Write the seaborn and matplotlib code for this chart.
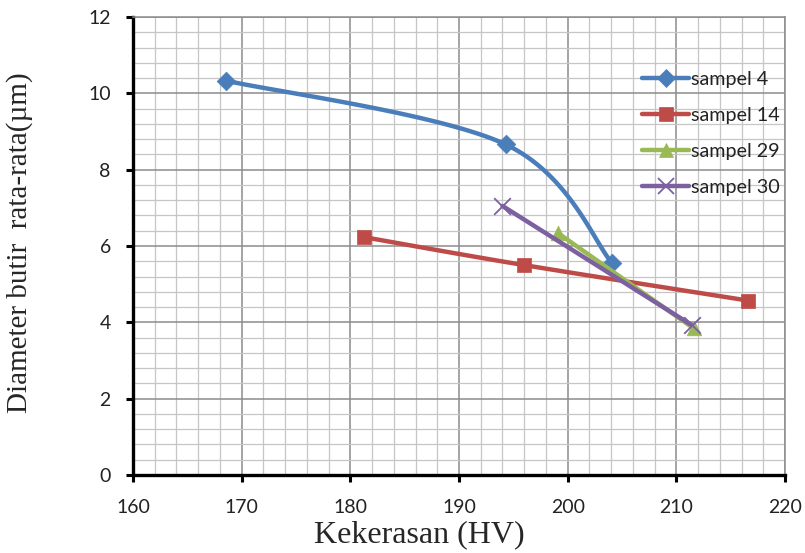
import numpy as np
import pandas as pd
import matplotlib
matplotlib.use("Agg")
import matplotlib.pyplot as plt
from matplotlib.lines import Line2D
from matplotlib.ticker import MultipleLocator
import seaborn as sns

# Hardness (HV) vs. average grain diameter (um) per sample
s4_x = [168.6, 194.3, 204.1]
s4_y = [10.33, 8.66, 5.55]
s14_x = [181.3, 196.0, 216.6]
s14_y = [6.23, 5.50, 4.57]
s29_x = [199.1, 211.6]
s29_y = [6.34, 3.84]
s30_x = [194.0, 211.4]
s30_y = [7.05, 3.93]

labels = ["sampel 4", "sampel 14", "sampel 29", "sampel 30"]
colors = ["#4A7EBB", "#BE4B48", "#98B954", "#7D60A0"]
markers = ["D", "s", "^", "x"]
msizes = [9.5, 10.5, 10.5, 10.5]

x_label = "Kekerasan (HV)"
y_label = "Diameter butir  rata-rata(\u00b5m)"


def smooth(xs, ys, n=60):
    """Catmull-Rom style Bezier smoothing through the given points."""
    p = np.column_stack([xs, ys]).astype(float)
    if len(p) < 3:
        return p[:, 0], p[:, 1]
    pts = []
    for i in range(len(p) - 1):
        p0 = p[i - 1] if i > 0 else p[i]
        p1, p2 = p[i], p[i + 1]
        p3 = p[i + 2] if i + 2 < len(p) else p[i + 1]
        c1 = p1 + (p2 - p0) / 6.0
        c2 = p2 - (p3 - p1) / 6.0
        t = np.linspace(0, 1, n)[:, None]
        seg = ((1 - t) ** 3) * p1 + 3 * ((1 - t) ** 2) * t * c1 \
            + 3 * (1 - t) * t ** 2 * c2 + t ** 3 * p2
        pts.append(seg if i == 0 else seg[1:])
    pts = np.vstack(pts)
    return pts[:, 0], pts[:, 1]


sns.set_style("white")
plt.rcParams["font.family"] = ["Lato", "DejaVu Sans"]

fig = plt.figure(figsize=(8.05, 5.53), dpi=100)
ax = fig.add_axes([133 / 805, 1 - 475 / 553, 652 / 805, 458 / 553])

series = [(s4_x, s4_y), (s14_x, s14_y), (s29_x, s29_y), (s30_x, s30_y)]
for i, ((xs, ys), lab, col, mk, ms) in enumerate(zip(series, labels, colors, markers, msizes)):
    sx, sy = smooth(xs, ys)
    curve = pd.DataFrame({"x": sx, "y": sy})
    sns.lineplot(data=curve, x="x", y="y", sort=False, color=col, lw=3.2,
                 ax=ax, zorder=3 + i, legend=False)
    pts = pd.DataFrame({"x": xs, "y": ys})
    if mk == "x":
        sns.scatterplot(data=pts, x="x", y="y", marker="x", s=ms ** 2 * 1.3,
                        color=col, linewidth=1.3, ax=ax, zorder=3.5 + i, legend=False)
    else:
        sns.scatterplot(data=pts, x="x", y="y", marker=mk, s=ms ** 2,
                        color=col, edgecolor=col, linewidth=0.5, ax=ax,
                        zorder=3.5 + i, legend=False)

ax.set_xlim(160, 220)
ax.set_ylim(0, 12)
ax.xaxis.set_major_locator(MultipleLocator(10))
ax.xaxis.set_minor_locator(MultipleLocator(2))
ax.yaxis.set_major_locator(MultipleLocator(2))
ax.yaxis.set_minor_locator(MultipleLocator(0.4))

ax.grid(which="major", color="#8c8c8c", lw=1.1, zorder=0)
ax.grid(which="minor", color="#c6c6c6", lw=0.9, zorder=0)
ax.set_axisbelow(True)

for side in ["top", "right"]:
    ax.spines[side].set_color("#8c8c8c")
    ax.spines[side].set_linewidth(1.1)
for side in ["left", "bottom"]:
    ax.spines[side].set_color("black")
    ax.spines[side].set_linewidth(2.4)

ax.tick_params(which="major", axis="both", direction="out", length=5, width=2.2,
               color="black", labelsize=14, labelcolor="#222222",
               left=True, bottom=True)
ax.tick_params(which="minor", length=0)
ax.tick_params(axis="x", pad=12)
ax.tick_params(axis="y", pad=11)

ax.set_xlabel(x_label, family=["Liberation Serif", "DejaVu Serif"], fontsize=23)
ax.set_ylabel(y_label, family=["Liberation Serif", "DejaVu Serif"], fontsize=21)
ax.xaxis.set_label_coords(0.4387, -0.098)
ax.yaxis.set_label_coords(-0.153, 0.507)

handles = [Line2D([0], [0], color=c, lw=3.2, marker=m,
                  markersize=(ms if m != "x" else ms * 1.1),
                  markeredgewidth=(1.3 if m == "x" else 0.5))
           for c, m, ms in zip(colors, markers, msizes)]
leg = ax.legend(handles, labels, loc="upper left", bbox_to_anchor=(0.754, 0.92),
                frameon=False, handlelength=2.35, handletextpad=0.1,
                labelspacing=0.96, prop={"family": ["Lato", "DejaVu Sans"], "size": 14.2})
for t in leg.get_texts():
    t.set_color("#222222")

fig.savefig("out.png", dpi=100)
